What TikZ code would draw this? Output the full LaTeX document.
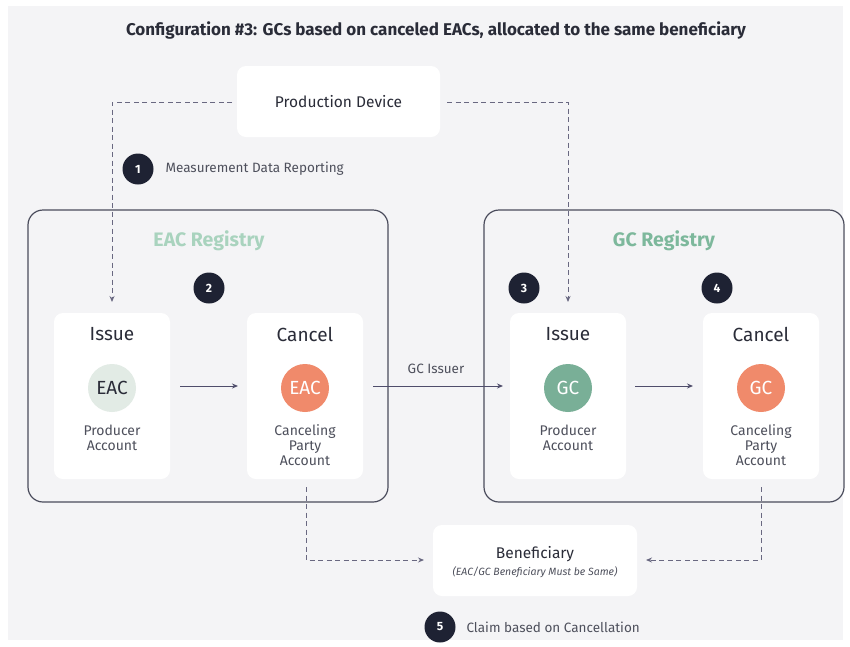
\documentclass[tikz,border=0pt]{standalone}
\usepackage{fontspec}
\setmainfont{Fira Sans}
\usetikzlibrary{arrows.meta,positioning}
\definecolor{bgc}{HTML}{F4F4F6}
\definecolor{navy}{HTML}{1E2233}
\definecolor{linec}{HTML}{4F4D6B}
\definecolor{framec}{HTML}{4A4C5C}
\definecolor{txt}{HTML}{2A2C38}
\definecolor{gtxt}{HTML}{4E505C}
\definecolor{lgreen}{HTML}{A9D3BE}
\definecolor{mgreen}{HTML}{7DB89C}
\definecolor{eacpale}{HTML}{E2EBE5}
\definecolor{orangec}{HTML}{F08A6B}
\definecolor{greenc}{HTML}{79AF97}
\begin{document}
\begin{tikzpicture}[x=1pt,y=-1pt,
  panel/.style={fill=white,draw=none,rounded corners=9pt},
  registry/.style={draw=framec,line width=1.2pt,rounded corners=15pt},
  badge/.style={circle,fill=navy,minimum size=31pt,inner sep=0pt,text=white,font=\fontsize{12}{14}\selectfont\bfseries},
  token/.style={circle,minimum size=48pt,inner sep=0pt,font=\fontsize{19}{22}\selectfont},
  ttl/.style={font=\fontsize{19}{22}\selectfont,text=txt},
  sub/.style={font=\fontsize{14}{15}\selectfont,text=gtxt,align=center},
  lbl/.style={font=\fontsize{13.5}{16}\selectfont,text=gtxt},
  solidarrow/.style={draw=linec,line width=1pt,-{Stealth[length=6pt,width=5pt]}},
  dasharrow/.style={draw=linec!85,line width=0.9pt,dash pattern=on 5pt off 3.5pt,-{Stealth[length=6pt,width=5pt]}},
  regtitle/.style={font=\fontsize{19.5}{22}\selectfont\bfseries}
]
\useasboundingbox (0,0) rectangle (850,646);
\fill[white] (0,0) rectangle (850,646);
\fill[bgc] (8,6) rectangle (843,640);

\node[font=\fontsize{17}{20}\selectfont\bfseries,text=txt] (title) at (436,30) {Configuration \#3: GCs based on canceled EACs, allocated to the same beneficiary};

% production device
\fill[white,rounded corners=9pt] (237,66) rectangle (440,137);
\node[font=\fontsize{15.5}{18}\selectfont,text=txt] (pd) at (338.5,101.5) {Production Device};
\coordinate (pdL) at (232,102);
\coordinate (pdR) at (447,102);

% registries
\draw[registry] (28,210) rectangle (388,502);
\draw[registry] (484,210) rectangle (844,502);
\node[regtitle,text=lgreen] (eacreg) at (209,241) {EAC Registry};
\node[regtitle,text=mgreen] (gcreg) at (664,241) {GC Registry};

% panels
\fill[panel] (54,313) rectangle (170,479);
\fill[panel] (247,313) rectangle (363,479);
\fill[panel] (510,313) rectangle (626,479);
\fill[panel] (703,313) rectangle (819,479);
\coordinate (p1top) at (112,302);
\coordinate (p3top) at (568,302);
\coordinate (p2bot) at (306,487);
\coordinate (p4bot) at (761,487);

\node[ttl] (iss1) at (112,334) {Issue};
\node[ttl] (can1) at (305,334) {Cancel};
\node[ttl] (iss2) at (568,334) {Issue};
\node[ttl] (can2) at (761,334) {Cancel};

\node[token,fill=eacpale,text=txt] (eac1) at (112,388) {EAC};
\node[token,fill=orangec,text=white] (eac2) at (305,388) {EAC};
\node[token,fill=greenc,text=white] (gc1) at (568,388) {GC};
\node[token,fill=orangec,text=white] (gc2) at (761,388) {GC};

\node[sub,anchor=north] (a1) at (112,421) {Producer\\Account};
\node[sub,anchor=north] (a2) at (305,421) {Canceling\\Party\\Account};
\node[sub,anchor=north] (a3) at (568,421) {Producer\\Account};
\node[sub,anchor=north] (a4) at (761,421) {Canceling\\Party\\Account};

% badges
\node[badge] (b1) at (138,169) {1};
\node[lbl,anchor=west] (l1) at (162,169) {Measurement Data Reporting};
\node[badge] (b2) at (209,288) {2};
\node[badge] (b3) at (524,288) {3};
\node[badge] (b4) at (717,288) {4};

% beneficiary
\fill[white,rounded corners=9pt] (433,525) rectangle (637,596);
\node[font=\fontsize{15.5}{18}\selectfont,text=txt] (ben) at (535,554) {Beneficiary};
\node[font=\fontsize{10.5}{12}\selectfont\itshape,text=gtxt] (bensub) at (535,572) {(EAC/GC Beneficiary Must be Same)};
\coordinate (benL) at (424,560);
\coordinate (benR) at (646,560);
\node[badge] (b5) at (440,627) {5};
\node[lbl,anchor=west] (l5) at (463,627) {Claim based on Cancellation};

% connectors
\draw[dasharrow] (pdL) -| (p1top);
\draw[dasharrow] (pdR) -| (p3top);
\coordinate (s1) at (180,386);
\coordinate (e1) at (238,386);
\draw[solidarrow] (s1) -- (e1);
\coordinate (s2) at (373,386);
\coordinate (e2) at (503,386);
\draw[solidarrow] (s2) -- (e2);
\node[lbl] (gci) at (436,369) {GC Issuer};
\coordinate (s3) at (635,386);
\coordinate (e3) at (693,386);
\draw[solidarrow] (s3) -- (e3);
\draw[dasharrow] (p2bot) |- (benL);
\draw[dasharrow] (p4bot) |- (benR);
\end{tikzpicture}
\end{document}
